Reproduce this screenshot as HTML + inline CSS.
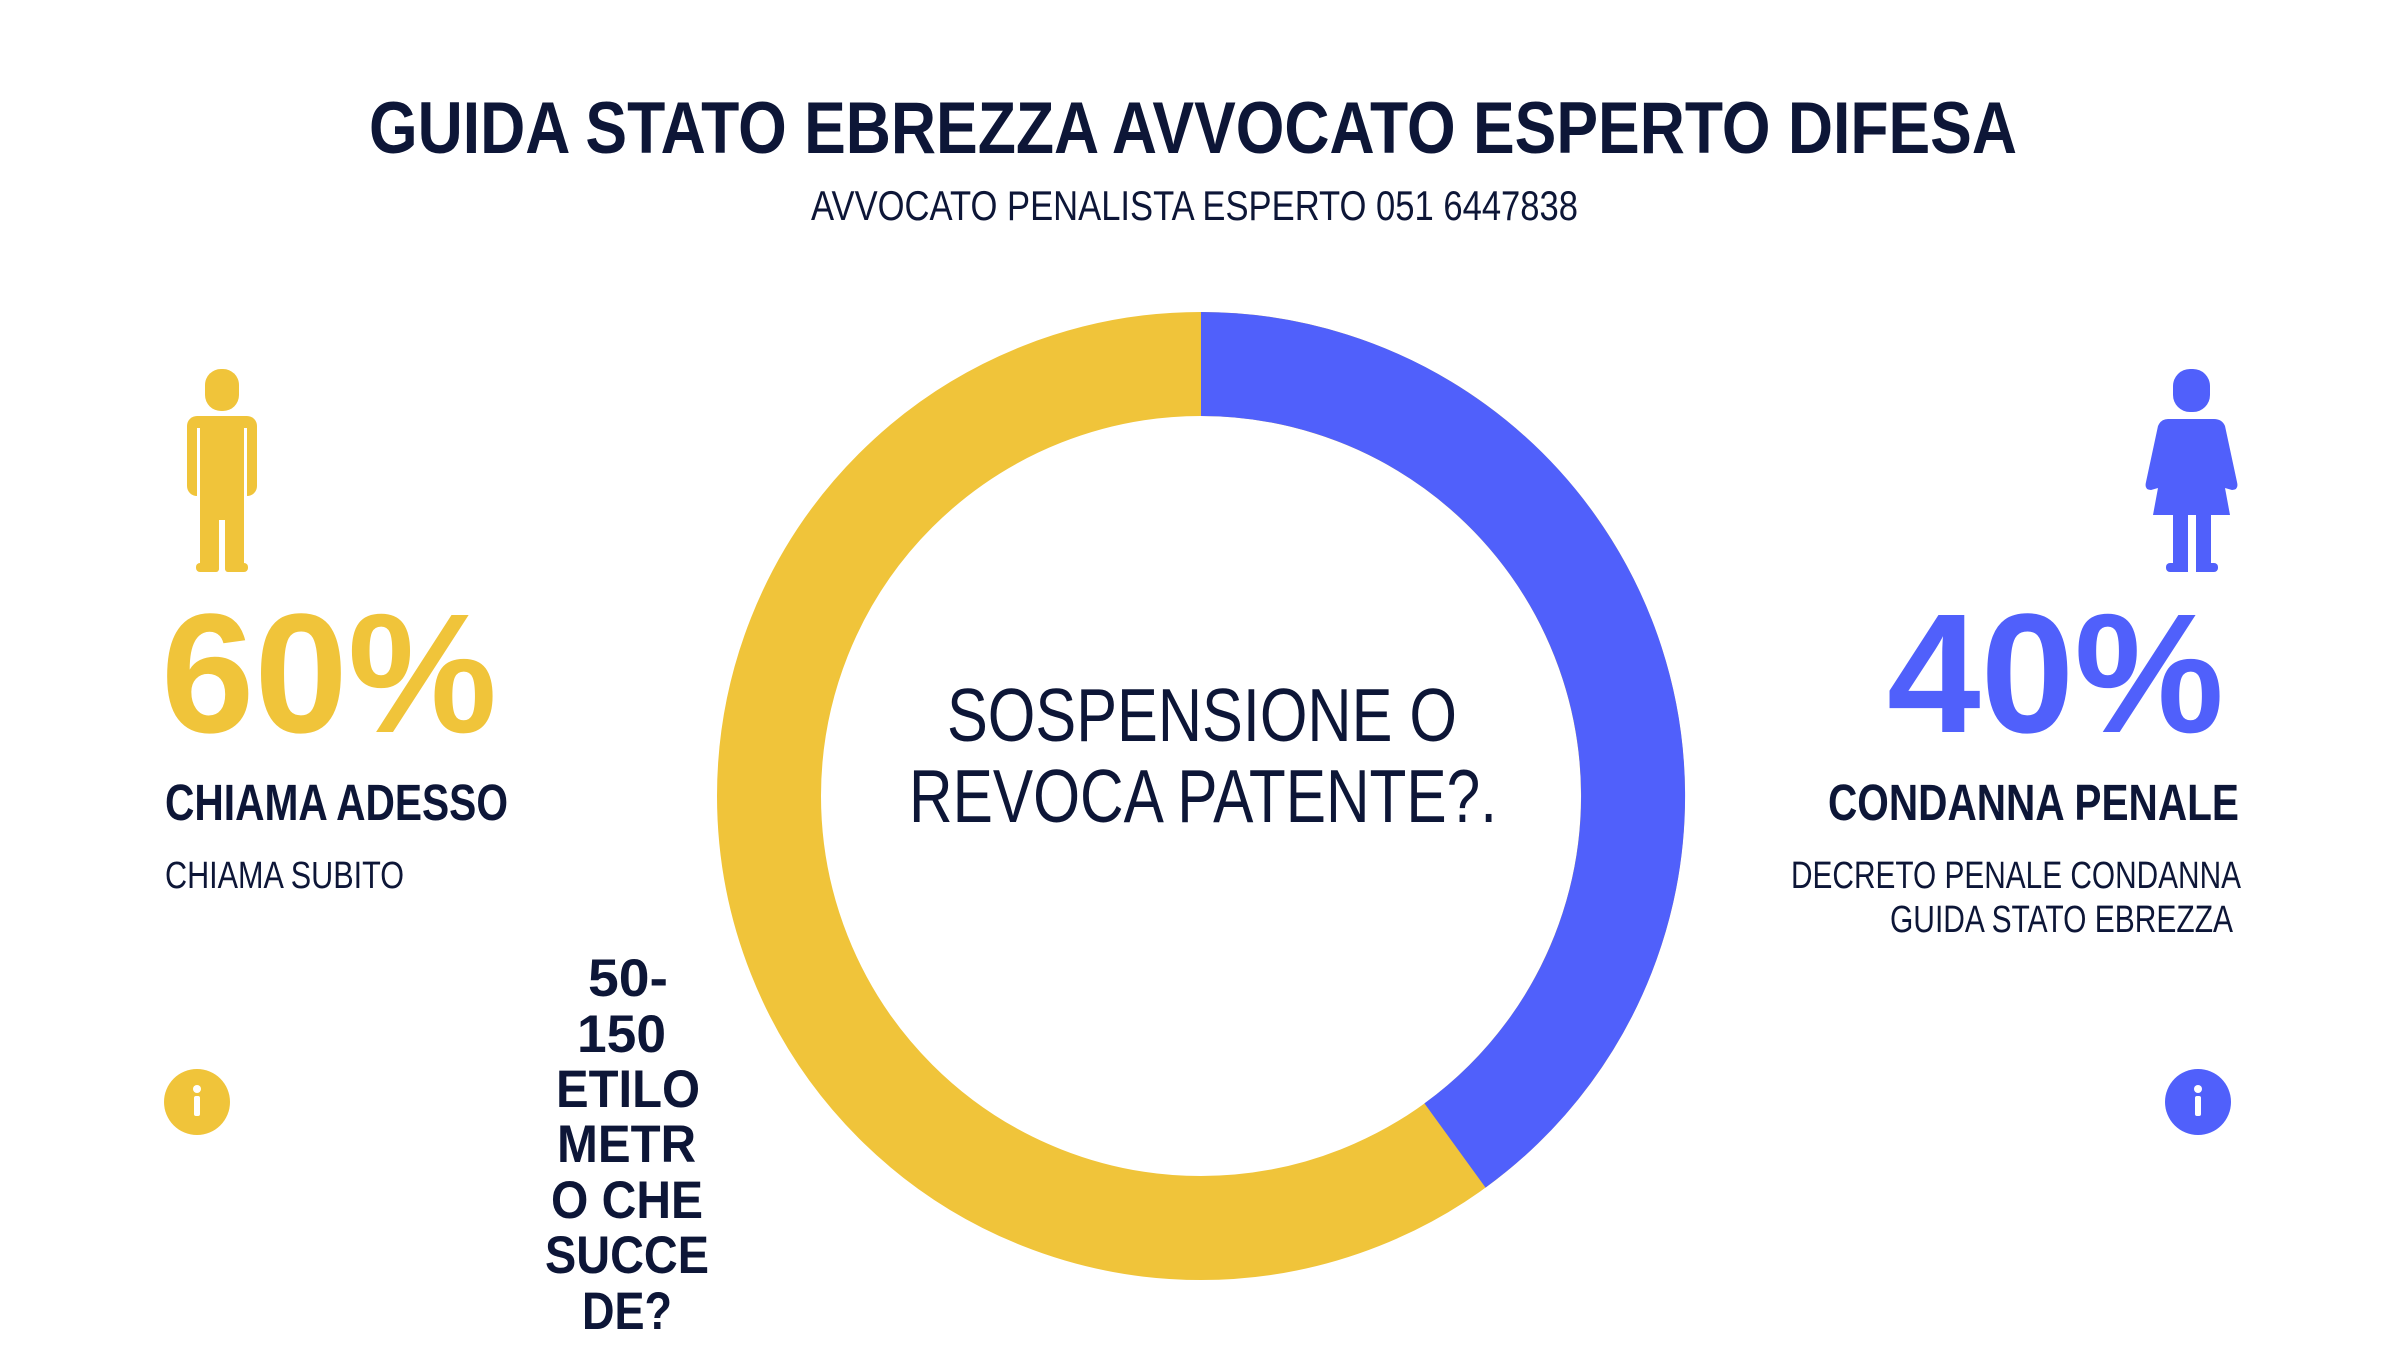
<!DOCTYPE html>
<html><head><meta charset="utf-8"><style>
html,body{margin:0;padding:0;background:#fff;}
svg{display:block;}
text{font-family:"Liberation Sans",sans-serif;fill:#0d1637;}
</style></head><body>
<svg width="2400" height="1350" viewBox="0 0 2400 1350" xmlns="http://www.w3.org/2000/svg">
<rect width="2400" height="1350" fill="#fff"/>
<text x="369" y="153" font-size="73" font-weight="bold" textLength="1648" lengthAdjust="spacingAndGlyphs">GUIDA STATO EBREZZA AVVOCATO ESPERTO DIFESA</text>
<text x="811" y="220" font-size="42" textLength="767" lengthAdjust="spacingAndGlyphs">AVVOCATO PENALISTA ESPERTO 051 6447838</text>

<circle cx="1201" cy="796" r="432" fill="none" stroke="#f0c43a" stroke-width="104"/>
<path d="M1201 364 A432 432 0 0 1 1455 1145.5" fill="none" stroke="#5060fb" stroke-width="104"/>

<text x="947" y="741" font-size="75" textLength="510" lengthAdjust="spacingAndGlyphs">SOSPENSIONE O</text>
<text x="909" y="822" font-size="75" textLength="588" lengthAdjust="spacingAndGlyphs">REVOCA PATENTE?.</text>

<!-- man -->
<g fill="#f0c43a">
<rect x="205" y="369" width="34" height="42" rx="16"/>
<rect x="187" y="416" width="70" height="80" rx="10"/>
<rect x="200" y="430" width="44" height="90"/>
<rect x="200" y="480" width="19" height="92" rx="3"/>
<rect x="225" y="480" width="19" height="92" rx="3"/>
<rect x="196" y="563" width="23" height="9" rx="4"/>
<rect x="225" y="563" width="23" height="9" rx="4"/>
</g>
<g fill="#fff"><rect x="197" y="428" width="3" height="70"/><rect x="244" y="428" width="3" height="70"/></g>

<!-- woman -->
<g fill="#5060fb">
<rect x="2173" y="369" width="37" height="43" rx="17"/>
<path d="M2168 419 L2214 419 Q2222 419 2225 426 L2237 482 Q2239 490 2232 490 L2225 488 L2218 450 L2230 515 L2153 515 L2165 450 L2158 488 L2151 490 Q2144 490 2146 482 L2158 426 Q2161 419 2168 419Z"/>
<rect x="2173" y="510" width="15" height="62"/>
<rect x="2196" y="510" width="15" height="62"/>
<rect x="2166" y="563" width="22" height="9" rx="4"/>
<rect x="2196" y="563" width="22" height="9" rx="4"/>
</g>

<text x="161" y="732" font-size="170" font-weight="bold" fill="#f0c43a" style="fill:#f0c43a" textLength="336" lengthAdjust="spacingAndGlyphs">60%</text>
<text x="165" y="820" font-size="51" font-weight="bold" textLength="343" lengthAdjust="spacingAndGlyphs">CHIAMA ADESSO</text>
<text x="165" y="888" font-size="38" textLength="239" lengthAdjust="spacingAndGlyphs">CHIAMA SUBITO</text>

<text x="1887" y="732" font-size="170" font-weight="bold" style="fill:#5060fb" textLength="337" lengthAdjust="spacingAndGlyphs">40%</text>
<text x="1828" y="820" font-size="51" font-weight="bold" textLength="411" lengthAdjust="spacingAndGlyphs">CONDANNA PENALE</text>
<text x="1791" y="888" font-size="38" textLength="450" lengthAdjust="spacingAndGlyphs">DECRETO PENALE CONDANNA</text>
<text x="1890" y="932" font-size="38" textLength="343" lengthAdjust="spacingAndGlyphs">GUIDA STATO EBREZZA</text>

<circle cx="197" cy="1102" r="33" fill="#f0c43a"/>
<circle cx="2198" cy="1102" r="33" fill="#5060fb"/>
<g fill="#fff"><circle cx="197" cy="1089" r="4"/><rect x="194" y="1096" width="6" height="20" rx="2"/>
<circle cx="2198" cy="1089" r="4"/><rect x="2195" y="1096" width="6" height="20" rx="2"/></g>

<g font-size="53" font-weight="bold">
<text x="588" y="996" textLength="80" lengthAdjust="spacingAndGlyphs">50-</text>
<text x="577" y="1052" textLength="89" lengthAdjust="spacingAndGlyphs">150</text>
<text x="556" y="1107" textLength="144" lengthAdjust="spacingAndGlyphs">ETILO</text>
<text x="557" y="1162" textLength="139" lengthAdjust="spacingAndGlyphs">METR</text>
<text x="551" y="1218" textLength="152" lengthAdjust="spacingAndGlyphs">O CHE</text>
<text x="545" y="1273" textLength="164" lengthAdjust="spacingAndGlyphs">SUCCE</text>
<text x="582" y="1329" textLength="90" lengthAdjust="spacingAndGlyphs">DE?</text>
</g>
</svg>
</body></html>
